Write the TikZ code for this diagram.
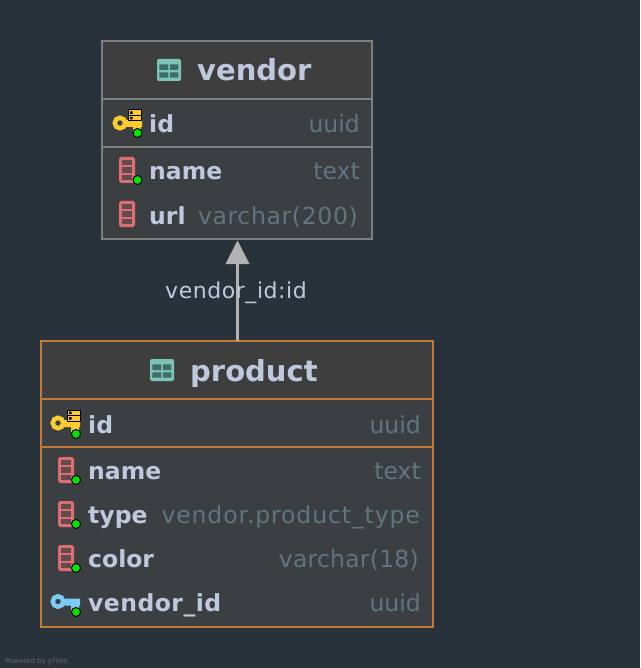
\documentclass[tikz,border=0pt]{standalone}
\usepackage{fontspec}
\setmainfont{DejaVu Sans}
\newcommand{\spc}[1]{\addfontfeature{LetterSpace=#1}}
\definecolor{bgc}{HTML}{28323A}
\definecolor{bodyc}{HTML}{3B3F42}
\definecolor{headc}{HTML}{3E3E3E}
\definecolor{greyb}{HTML}{7C8080}
\definecolor{orangeb}{HTML}{C27B37}
\definecolor{namec}{HTML}{BFC9DE}
\definecolor{typec}{HTML}{5F7680}
\definecolor{tealc}{HTML}{7CC4B6}
\definecolor{cellc}{HTML}{3F6B6A}
\definecolor{redc}{HTML}{DB6E70}
\definecolor{goldc}{HTML}{FBCB2F}
\definecolor{bluec}{HTML}{7CCBF7}
\definecolor{edgec}{HTML}{B2B3B0}
\tikzset{
  x=1pt,y=-1pt,
  tablebox/.style={draw=#1,line width=2pt,fill=bodyc,inner sep=0pt,outer sep=0pt,anchor=north west},
  sepline/.style={draw=#1,line width=2pt},
  title/.style={font=\fontsize{29}{30}\selectfont\bfseries,text=namec,anchor=base west,inner sep=0pt},
  fname/.style={font=\fontsize{23.5}{24}\selectfont\bfseries,text=namec,anchor=base west,inner sep=0pt},
  ftype/.style={font=\fontsize{23.5}{24}\selectfont,text=typec,anchor=base east,inner sep=0pt},
  elabel/.style={font=\fontsize{22}{22}\selectfont,text=namec,inner sep=0pt},
  tabicon/.pic={
    \fill[tealc,rounded corners=2pt] (-12,-11) rectangle (12,11);
    \fill[cellc] (-9.7,-5.7) rectangle (-0.7,0) (1,-5.7) rectangle (9.3,0) (-9.7,2.3) rectangle (-0.7,7.7) (1,2.3) rectangle (9.3,7.7);
  },
  colicon/.pic={
    \draw[redc,fill=redc!25!bodyc,line width=2.8pt,rounded corners=1pt] (-6.6,-11.6) rectangle (6.6,11.6);
    \draw[redc,line width=2.8pt] (-6.6,-4) -- (6.6,-4) (-6.6,4) -- (6.6,4);
  },
  dot/.pic={\fill[green!90!black,draw=black,line width=1pt] (0,0) circle (4.5);},
  keyicon/.pic={
    \draw[#1,line width=4.5pt] (-8,0) circle (5.25);
    \fill[#1] (-3,-3) rectangle (14,4) (5,0) rectangle (13,9);
  },
  stack/.pic={
    \fill[goldc,draw=black,line width=1pt] (-6,-12) rectangle (7,-6.5);
    \fill[goldc,draw=black,line width=1pt] (-6,-6.5) rectangle (7,-1);
    \fill[black] (-4,-10.5) rectangle (-1.5,-8) (-4,-5) rectangle (-1.5,-2.5);
  }
}
\begin{document}
\begin{tikzpicture}
\useasboundingbox (0,0) rectangle (640,668);
\fill[bgc] (0,0) rectangle (640,668);
% vendor
\node[tablebox=greyb,minimum width=270pt,minimum height=198pt] (vendor) at (102,41) {};
\fill[headc] (103,42) rectangle (371,98);
\draw[sepline=greyb] (102,99) -- (372,99);
\draw[sepline=greyb] (102,147) -- (372,147);
\pic at (169,70) {tabicon};
\node[title] (vt) at (197,81) {vendor};
\pic at (128,123) {keyicon=goldc};
\pic at (134,122) {stack};
\pic at (137.5,133) {dot};
\node[fname] (v1) at (149,133) {id};
\node[ftype] (v1t) at (360,133) {uuid};
\pic at (127,170) {colicon};
\pic at (137.5,180) {dot};
\node[fname] (v2) at (149,180) {name};
\node[ftype] (v2t) at (360,180) {text};
\pic at (127,214) {colicon};
\node[fname] (v3) at (149,224) {url};
\node[ftype] (v3t) at (358,224) {\spc{2.8}varchar(200)};
% product
\node[tablebox=orangeb,minimum width=392pt,minimum height=286pt] (product) at (41,341) {};
\fill[headc] (42,342) rectangle (432,398);
\draw[sepline=orangeb] (41,399) -- (433,399);
\draw[sepline=orangeb] (41,447) -- (433,447);
\pic at (162,370) {tabicon};
\node[title] (pt) at (190,381) {product};
\pic at (66,423) {keyicon=goldc};
\pic at (73,422) {stack};
\pic at (76,434) {dot};
\node[fname] (p1) at (88,433) {id};
\node[ftype] (p1t) at (421,433) {uuid};
\pic at (66,470) {colicon};
\pic at (76,480) {dot};
\node[fname] (p2) at (88,479) {name};
\node[ftype] (p2t) at (421,479) {text};
\pic at (66,514) {colicon};
\pic at (76,524) {dot};
\node[fname] (p3) at (88,523) {type};
\node[ftype] (p3t) at (420,523) {\spc{3.8}vendor.product\_type};
\pic at (66,558) {colicon};
\pic at (76,568) {dot};
\node[fname] (p4) at (88,567) {color};
\node[ftype] (p4t) at (419,567) {\spc{1}varchar(18)};
\pic at (66,601.5) {keyicon=bluec};
\pic at (76,612) {dot};
\node[fname] (p5) at (88,611) {\spc{2}vendor\_id};
\node[ftype] (p5t) at (421,611) {uuid};
% connector
\coordinate (from) at (product.north -| 237.5,0);
\coordinate (to) at (vendor.south -| 237.5,0);
\draw[edgec,line width=2.4pt] (from) -- ([yshift=-24pt]to);
\fill[edgec] ([yshift=-1.5pt]to) -- ([xshift=12pt,yshift=-25pt]to) -- ([xshift=-12pt,yshift=-25pt]to) -- cycle;
\node[elabel,anchor=base] (el) at (236,298) {\spc{2.5}vendor\_id:id};
\node[font=\fontsize{7}{7}\selectfont,text=gray!70!bgc,anchor=base west,inner sep=0pt] (pw) at (5,663) {Powered by yFiles};
\end{tikzpicture}
\end{document}
